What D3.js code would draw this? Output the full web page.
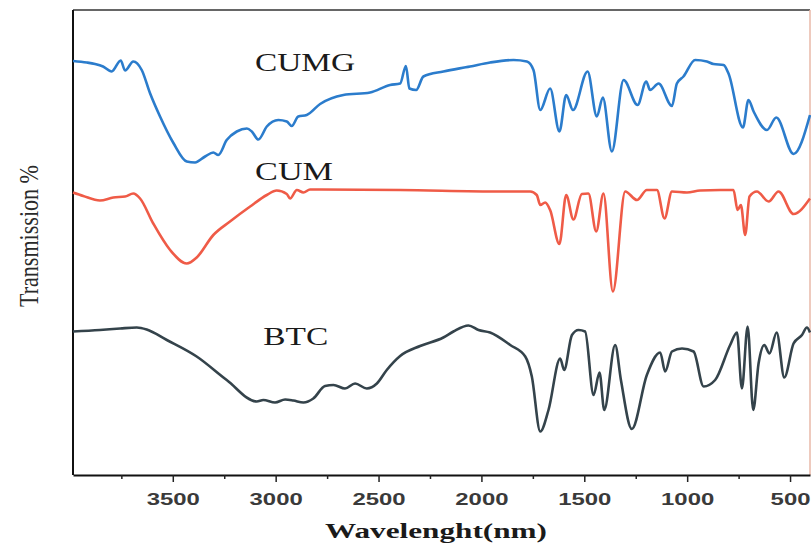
<!DOCTYPE html>
<html>
<head>
<meta charset="utf-8">
<script src="https://cdn.jsdelivr.net/npm/d3@7"></script>
<style>
  body { margin: 0; background: #fff; }
  .canvas svg { display: block; }
</style>
</head>
<body>
<div class="canvas"></div>
<script>
const svgWidth = 811;
const svgHeight = 547;

// spectra as [wavenumber, transmission]
const cumg = [
  [3985, 82.8], [3918, 82.5], [3878, 82.2], [3839, 81.7], [3797, 80.7], [3753, 82.9],
  [3732, 80.9], [3692, 82.7], [3651, 81.0], [3611, 76.4], [3562, 71.7], [3497, 66.4],
  [3432, 62.7], [3392, 62.5], [3343, 63.7], [3303, 64.5], [3279, 64.0], [3238, 67.0],
  [3189, 68.7], [3140, 69.3], [3116, 68.7], [3084, 67.1], [3043, 69.7], [2987, 71.0],
  [2946, 70.7], [2922, 69.8], [2890, 71.7], [2849, 72.0], [2784, 74.2], [2671, 76.0],
  [2541, 76.5], [2444, 78.0], [2395, 78.3], [2367, 81.8], [2350, 77.3], [2317, 77.0],
  [2282, 79.7], [2185, 80.7], [2055, 81.7], [1958, 82.5], [1844, 83.0], [1779, 82.7],
  [1747, 81.0], [1714, 73.0], [1666, 77.3], [1621, 68.7], [1588, 76.0], [1555, 73.0],
  [1484, 80.7], [1439, 71.7], [1410, 75.5], [1366, 64.7], [1309, 79.0], [1241, 74.0],
  [1199, 78.7], [1180, 77.0], [1139, 78.3], [1074, 73.8], [1050, 78.3], [1018, 79.7],
  [961, 83.0], [904, 82.7], [872, 82.2], [823, 82.0], [799, 80.3], [729, 69.5],
  [702, 75.0], [677, 72.7], [612, 69.0], [567, 71.5], [483, 64.2], [403, 72.0]
];

const cum = [
  [3985, 56.5], [3935, 55.8], [3854, 54.9], [3789, 55.5], [3732, 55.7], [3692, 56.3],
  [3659, 55.3], [3595, 50.3], [3513, 45.0], [3432, 42.3], [3384, 43.5], [3303, 48.0],
  [3222, 50.7], [3124, 53.7], [3043, 56.0], [2995, 56.9], [2946, 56.2], [2930, 55.3],
  [2897, 57.0], [2865, 56.5], [2833, 57.1], [2784, 57.1], [2395, 57.0], [1909, 56.7],
  [1763, 56.7], [1731, 56.0], [1714, 54.0], [1690, 54.5], [1666, 53.0], [1621, 46.2],
  [1588, 56.0], [1553, 51.1], [1512, 56.2], [1480, 56.3], [1442, 48.7], [1407, 56.3],
  [1361, 36.7], [1301, 56.7], [1244, 55.0], [1196, 57.0], [1147, 57.0], [1110, 51.3],
  [1074, 56.7], [1001, 56.5], [937, 56.9], [839, 57.0], [775, 57.0], [755, 53.0],
  [739, 54.0], [718, 48.0], [697, 55.7], [661, 56.7], [604, 54.7], [556, 56.7],
  [483, 52.2], [403, 55.3]
];

const btc = [
  [3985, 28.7], [3854, 29.0], [3756, 29.3], [3675, 29.5], [3627, 29.1], [3529, 27.0],
  [3384, 23.7], [3238, 19.0], [3092, 14.7], [3060, 15.0], [3003, 14.5], [2954, 15.1],
  [2914, 14.9], [2865, 14.5], [2817, 15.3], [2760, 17.8], [2719, 18.0], [2663, 17.3],
  [2614, 18.3], [2557, 17.3], [2508, 18.3], [2460, 21.0], [2395, 23.8], [2298, 25.8],
  [2185, 27.5], [2136, 28.7], [2063, 29.9], [2014, 29.0], [1958, 28.5], [1860, 26.0],
  [1787, 23.7], [1755, 19.7], [1714, 8.7], [1674, 13.0], [1617, 23.3], [1598, 21.0],
  [1560, 28.0], [1528, 29.0], [1496, 28.7], [1455, 16.0], [1426, 20.5], [1403, 13.0],
  [1350, 26.0], [1322, 19.0], [1269, 9.2], [1196, 20.0], [1131, 24.5], [1107, 20.7],
  [1074, 24.7], [1025, 25.3], [969, 24.7], [920, 17.7], [864, 19.0], [791, 26.0],
  [758, 28.5], [734, 17.3], [706, 29.7], [679, 13.0], [653, 22.3], [625, 26.0],
  [600, 24.3], [565, 28.5], [528, 19.5], [483, 26.3], [442, 28.0], [418, 29.5],
  [403, 28.5]
];

const seriesNames = ['CUMG', 'CUM', 'BTC'];
const seriesColors = ['#2b7ccc', '#ef5b47', '#34434b'];
// where each name sits, in data units [wavenumber, transmission]
const labelAnchors = [[3100, 80.8], [3100, 59], [3060, 26]];

const majorTicks = [3500, 3000, 2500, 2000, 1500, 1000, 500];
const minorTicks = [3750, 3250, 2750, 2250, 1750, 1250, 750];

const svg = d3.select('.canvas')
    .append('svg')
    .attr('width', svgWidth)
    .attr('height', svgHeight);

const margin = { top: 10, right: 1, bottom: 72, left: 73 };
const graphWidth = svgWidth - margin.left - margin.right;
const graphHeight = svgHeight - margin.top - margin.bottom;

const graph = svg.append('g')
    .attr('transform', `translate(${margin.left}, ${margin.top})`);

// wavenumber runs right to left
const x = d3.scaleLinear()
    .domain([3985, 403])
    .range([0, graphWidth]);

const y = d3.scaleLinear()
    .domain([0, 93])
    .range([graphHeight, 0]);

// frame: top + left dark, right faint
graph.append('line')
    .attr('x1', 0).attr('x2', graphWidth)
    .attr('y1', 0).attr('y2', 0)
    .attr('stroke', '#333').attr('stroke-width', 1.5);
graph.append('line')
    .attr('x1', graphWidth).attr('x2', graphWidth)
    .attr('y1', 0).attr('y2', graphHeight)
    .attr('stroke', '#e8b8a8').attr('stroke-width', 1.5);
graph.append('line')
    .attr('x1', 0).attr('x2', 0)
    .attr('y1', 0).attr('y2', graphHeight)
    .attr('stroke', '#111').attr('stroke-width', 2);

const line = d3.line()
    .x(d => x(d[0]))
    .y(d => y(d[1]))
    .curve(d3.curveMonotoneX);

[cumg, cum, btc].forEach((data, i) => {
    graph.append('path')
        .datum(data)
        .attr('fill', 'none')
        .attr('stroke', seriesColors[i])
        .attr('stroke-width', 2.6)
        .attr('stroke-linejoin', 'round')
        .attr('d', line);
});

// series names
const nameWidths = [100, 78, 65];
graph.selectAll('.name')
    .data(seriesNames)
    .enter()
    .append('text')
        .attr('class', 'name')
        .attr('x', (d, i) => x(labelAnchors[i][0]))
        .attr('y', (d, i) => y(labelAnchors[i][1]))
        .attr('textLength', (d, i) => nameWidths[i])
        .attr('lengthAdjust', 'spacingAndGlyphs')
        .attr('font-family', '"Liberation Serif", "DejaVu Serif", serif')
        .attr('font-size', 26)
        .attr('fill', '#1a1a1a')
        .text(d => d);

// x axis with minor ticks
const xAxisGroup = graph.append('g')
    .attr('transform', `translate(0, ${graphHeight})`);
const xMinor = graph.append('g')
    .attr('transform', `translate(0, ${graphHeight})`);

const xAxis = d3.axisBottom(x)
    .tickValues(majorTicks)
    .tickSize(7)
    .tickSizeOuter(0)
    .tickPadding(11)
    .tickFormat(d3.format('d'));

const xAxisMinor = d3.axisBottom(x)
    .tickValues(minorTicks)
    .tickSize(4)
    .tickSizeOuter(0)
    .tickFormat('');

xMinor.call(xAxisMinor);
xMinor.select('.domain').remove();
xMinor.selectAll('line').attr('stroke', '#222').attr('stroke-width', 1.5);

xAxisGroup.call(xAxis);
xAxisGroup.select('.domain')
    .attr('stroke', '#111')
    .attr('stroke-width', 2);
xAxisGroup.selectAll('line').attr('stroke', '#222').attr('stroke-width', 1.5);
// the labels are drawn wide, about 13px per digit
xAxisGroup.selectAll('text')
    .attr('font-family', '"Liberation Sans", Arial, sans-serif')
    .attr('font-size', 17)
    .attr('font-weight', 'bold')
    .attr('fill', '#3a3a3a')
    .attr('textLength', d => String(d).length * 13.3)
    .attr('lengthAdjust', 'spacingAndGlyphs');

// axis titles
svg.append('text')
    .attr('x', 436)
    .attr('y', 538)
    .attr('text-anchor', 'middle')
    .attr('textLength', 222)
    .attr('lengthAdjust', 'spacingAndGlyphs')
    .attr('font-family', '"Liberation Serif", "DejaVu Serif", serif')
    .attr('font-weight', 'bold')
    .attr('font-size', 22)
    .attr('fill', '#1a1a1a')
    .text('Wavelenght(nm)');

svg.append('text')
    .attr('transform', 'translate(38, 236) rotate(-90)')
    .attr('text-anchor', 'middle')
    .attr('textLength', 142)
    .attr('lengthAdjust', 'spacingAndGlyphs')
    .attr('font-family', '"Liberation Serif", "DejaVu Serif", serif')
    .attr('font-size', 28)
    .attr('fill', '#2a2a2a')
    .text('Transmission %');
</script>
</body>
</html>
